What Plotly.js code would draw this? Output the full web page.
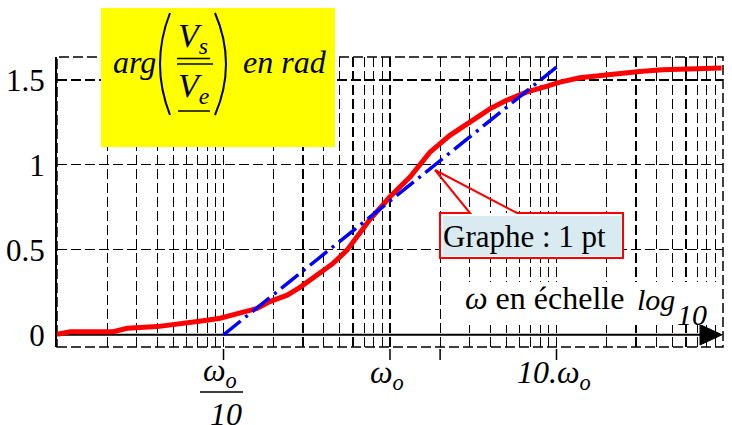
<!DOCTYPE html>
<html>
<head>
<meta charset="utf-8">
<script src="https://cdn.plot.ly/plotly-3.0.1.min.js"></script>
<style>html,body{margin:0;padding:0;background:#fff;}#chart{width:732px;height:425px;}</style>
</head>
<body>
<div id="chart"></div>
<script>
// ---- data (omega in units of omega_o) ----
const omegaRatio = [0.01, 0.012, 0.0218, 0.0264, 0.04, 0.05, 0.0605, 0.0755, 0.0955, 0.126, 0.159, 0.19, 0.241, 0.288, 0.365, 0.455, 0.552, 0.66, 0.759, 1, 1.318, 1.738, 2.29, 3.02, 3.98, 5.01, 6.6, 8.7, 10.5, 13.8, 18.2, 24, 31.6, 43.4, 63, 79.4, 98];
const phaseRad   = [0.003, 0.018, 0.018, 0.038, 0.048, 0.058, 0.068, 0.083, 0.097, 0.126, 0.155, 0.195, 0.233, 0.279, 0.351, 0.42, 0.498, 0.596, 0.68, 0.812, 0.928, 1.075, 1.174, 1.252, 1.33, 1.38, 1.428, 1.462, 1.487, 1.513, 1.527, 1.54, 1.55, 1.56, 1.562, 1.562, 1.57];
const asymptoteOmega = [0.1, 10];
const asymptotePhase = [0, 1.575];

const yTickVals = [0, 0.5, 1, 1.5];
const yTickText = ['0', '0.5', '1', '1.5'];
const gridDecades = [0.01, 0.1, 1, 10];
const gridDigits = [1, 2, 3, 4, 5, 6, 7, 8, 9];
const majorTickVals = [0.1, 1, 2, 10];
const xTickLabels = ['<i>ω<sub>o</sub></i>', '<i>ω<sub>o</sub></i>', '<i>10.ω<sub>o</sub></i>'];
const xTickDenominator = '<i>10</i>';
const yTitleParts = ['<i>arg</i>', '<i>V<sub>s</sub></i>', '<i>V<sub>e</sub></i>', '<i>en rad</i>'];
const calloutText = 'Graphe : 1 pt';
const xTitleParts = ['<i>ω</i> en échelle', '<i>log</i>', '<i>10</i>'];

// grid tick values
const xGridVals = [];
gridDecades.forEach(d => gridDigits.forEach(k => xGridVals.push(+(d * k).toPrecision(3))));
xGridVals.push(100);

// ---- pixel helpers (plot area 57..723 x 57..347) ----
const L = 57, T = 57, W = 666, H = 290;
const px = x => (x - L) / W;
const py = y => (T + H - y) / H;
const FONT = 'Liberation Serif';

const dashGrid = '10px,4px';

const shapes = [];
// plot border (dashed)
shapes.push({type: 'rect', xref: 'paper', yref: 'paper', x0: 0, x1: 1, y0: 0, y1: 1,
  line: {color: 'black', width: 1.5, dash: dashGrid}, layer: 'between'});
// x axis line at 0 with arrow
shapes.push({type: 'line', xref: 'paper', yref: 'y', x0: 0, x1: px(703), y0: 0, y1: 0,
  line: {color: 'black', width: 2}, layer: 'between'});
shapes.push({type: 'path', xref: 'paper', yref: 'y',
  path: `M${px(700)},0.06 L${px(722)},0 L${px(700)},-0.06 Z`,
  fillcolor: 'black', line: {color: 'black', width: 1}, layer: 'above'});
// extended major ticks below plot
majorTickVals.forEach(v => shapes.push({type: 'line', xref: 'x', yref: 'paper', x0: v, x1: v,
  y0: py(349), y1: py(360), line: {color: 'black', width: 1.5}, layer: 'above'}));
// yellow title box
shapes.push({type: 'rect', xref: 'paper', yref: 'paper', x0: px(101), x1: px(335), y0: py(147), y1: py(8),
  fillcolor: '#ffff00', line: {width: 0}, layer: 'above'});
// parentheses
shapes.push({type: 'path', xref: 'paper', yref: 'paper',
  path: `M${px(170)},${py(13)} Q${px(150)},${py(64)} ${px(170)},${py(115)}`,
  line: {color: 'black', width: 2}, layer: 'above'});
shapes.push({type: 'path', xref: 'paper', yref: 'paper',
  path: `M${px(215)},${py(13)} Q${px(237)},${py(64)} ${px(215)},${py(115)}`,
  line: {color: 'black', width: 2}, layer: 'above'});
// underlines and fraction bar
[[177, 210, 58.5], [177, 213, 64], [178, 210, 111]].forEach(s => shapes.push({type: 'line',
  xref: 'paper', yref: 'paper', x0: px(s[0]), x1: px(s[1]), y0: py(s[2]), y1: py(s[2]),
  line: {color: 'black', width: 1.5}, layer: 'above'}));
// white background behind x title
shapes.push({type: 'rect', xref: 'paper', yref: 'paper', x0: px(458), x1: px(721), y0: py(325), y1: py(282),
  fillcolor: 'white', line: {width: 0}, layer: 'above'});
// callout box
shapes.push({type: 'rect', xref: 'paper', yref: 'paper', x0: px(440), x1: px(623), y0: py(258), y1: py(213),
  fillcolor: 'white', line: {width: 0}, layer: 'above'});
shapes.push({type: 'rect', xref: 'paper', yref: 'paper', x0: px(443), x1: px(621), y0: py(256), y1: py(216),
  fillcolor: '#d9eaf0', line: {width: 0}, layer: 'above'});
shapes.push({type: 'path', xref: 'paper', yref: 'paper',
  path: `M${px(440)},${py(213)} L${px(470)},${py(213)} L${px(435)},${py(170)} L${px(517)},${py(213)} L${px(623)},${py(213)} L${px(623)},${py(258)} L${px(440)},${py(258)} Z`,
  line: {color: '#ff0000', width: 2}, layer: 'above'});
// fraction bar of omega_o / 10
shapes.push({type: 'line', xref: 'paper', yref: 'paper', x0: px(200), x1: px(243), y0: py(392), y1: py(392),
  line: {color: 'black', width: 1.5}, layer: 'above'});

function ann(text, x, yTop, size) {
  return {text: text, xref: 'paper', yref: 'paper', x: px(x), y: py(yTop), xanchor: 'left', yanchor: 'top',
    showarrow: false, font: {family: FONT, size: size, color: 'black'}, borderpad: 0};
}
const annotations = [
  ann(yTitleParts[0], 112, 43, 32),
  ann(yTitleParts[1], 177, 16, 34),
  ann(yTitleParts[2], 177, 66, 34),
  ann(yTitleParts[3], 242, 43, 32),
  ann(calloutText, 442, 218, 31),
  ann(xTitleParts[0], 464, 279, 32),
  ann(xTitleParts[1], 636, 282, 30),
  ann(xTitleParts[2], 676, 297, 30),
  ann(xTickLabels[0], 202, 351, 32),
  ann(xTickDenominator, 209, 395, 32),
  ann(xTickLabels[1], 369, 353, 32),
  ann(xTickLabels[2], 516, 353, 32)
];

const traces = [
  {x: omegaRatio, y: phaseRad, type: 'scatter', mode: 'lines',
   line: {color: '#ff0000', width: 5}, hoverinfo: 'skip'},
  {x: asymptoteOmega, y: asymptotePhase, type: 'scatter', mode: 'lines',
   line: {color: '#0000ff', width: 3.5, dash: '22px,6px,3px,6px'}, hoverinfo: 'skip'}
];

const layout = {
  width: 732, height: 425,
  margin: {l: L, r: 732 - L - W, t: T, b: 425 - T - H, pad: 0},
  paper_bgcolor: 'white', plot_bgcolor: 'white',
  showlegend: false,
  font: {family: FONT, color: 'black'},
  xaxis: {type: 'log', range: [-2, 2], tickvals: xGridVals, ticktext: xGridVals.map(() => ''),
    showticklabels: false, ticks: '', showgrid: true, gridcolor: 'black', gridwidth: 1.2,
    griddash: dashGrid, zeroline: false, showline: false, fixedrange: true},
  yaxis: {range: [-0.072, 1.635], tickvals: yTickVals, ticktext: yTickText, ticks: '',
    tickfont: {family: FONT, size: 31, color: 'black'}, ticklabelstandoff: 4,
    showgrid: true, gridcolor: 'black', gridwidth: 1.2, griddash: dashGrid,
    zeroline: false, showline: true, linecolor: 'black', linewidth: 2, fixedrange: true},
  shapes: shapes,
  annotations: annotations
};

Plotly.newPlot('chart', traces, layout, {displayModeBar: false, staticPlot: true});
</script>
</body>
</html>
